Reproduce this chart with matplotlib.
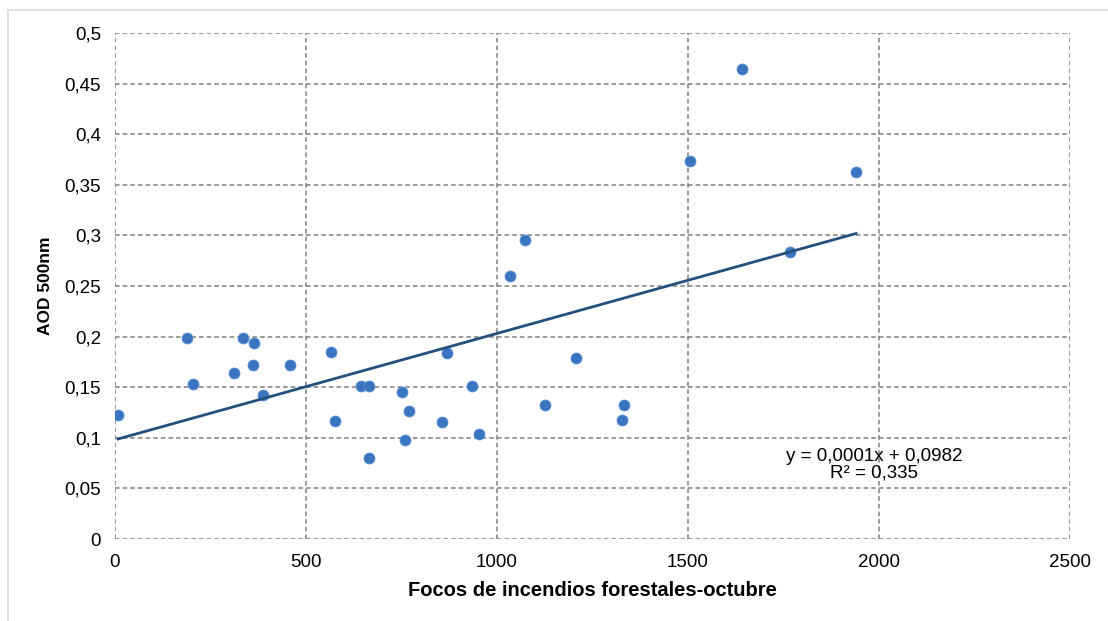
import matplotlib.pyplot as plt
import matplotlib.ticker as mticker
from matplotlib.patches import Rectangle
import numpy as np

plt.rcParams['font.family'] = ['Liberation Sans', 'DejaVu Sans']

# focos de incendios (octubre) vs AOD 500nm
focos = [8, 188, 204, 312, 335, 364, 361, 387, 458, 565, 576, 644, 665, 665,
         751, 759, 770, 856, 869, 935, 953, 1034, 1073, 1126, 1207, 1327,
         1332, 1505, 1641, 1767, 1940]
aod = [0.1225, 0.199, 0.153, 0.164, 0.199, 0.194, 0.172, 0.142, 0.172, 0.185,
       0.117, 0.151, 0.151, 0.080, 0.145, 0.098, 0.126, 0.116, 0.184, 0.151,
       0.104, 0.260, 0.295, 0.132, 0.179, 0.118, 0.132, 0.374, 0.464, 0.284,
       0.363]
x_label = 'Focos de incendios forestales-octubre'
y_label = 'AOD 500nm'
eq_text = 'y = 0,0001x + 0,0982\nR² = 0,335'

fig = plt.figure(figsize=(11.08, 6.21), dpi=100)
ax = fig.add_axes([115 / 1108, 1 - 539 / 621, (1070 - 115) / 1108, (539 - 33) / 621])

# outer chart border
fig.patches.append(Rectangle((8 / 1108, -0.1), 1.2, 1 - 10 / 621 + 0.1,
                             transform=fig.transFigure, fill=False,
                             edgecolor='#d9d9d9', linewidth=1.2))

ax.scatter(focos, aod, s=62, color='#3a73bf', edgecolors='#5b8fd6',
           linewidths=0.6, zorder=3)

# linear trend
xs = np.array(focos, dtype=float)
m, b = np.polyfit(xs, np.array(aod), 1)
xl = np.array([xs.min(), xs.max()])
ax.plot(xl, m * xl + b, color='#24507e', linewidth=2.0, zorder=4)

ax.text(1988, 0.0735, eq_text, ha='center', va='center', fontsize=13.5,
        linespacing=1.0, color='#000000')

ax.set_xlim(0, 2500)
ax.set_ylim(0, 0.5)
ax.xaxis.set_major_locator(mticker.MultipleLocator(500))
ax.yaxis.set_major_locator(mticker.MultipleLocator(0.05))
ax.yaxis.set_major_formatter(mticker.FuncFormatter(
    lambda v, p: ('%g' % round(v, 3)).replace('.', ',')))

for s in ax.spines.values():
    s.set_visible(False)
ax.grid(True, color='#7f7f7f', linestyle=(0, (3, 2)), linewidth=1.1)
ax.set_axisbelow(True)
ax.tick_params(length=0, labelsize=13.5, pad=10, colors='#000000')
ax.tick_params(axis='x', pad=11)

ax.set_xlabel(x_label, fontsize=14.5, fontweight='bold', labelpad=7)
ax.set_ylabel(y_label, fontsize=12.5, fontweight='bold', labelpad=8)

fig.savefig('out.png', dpi=100)
